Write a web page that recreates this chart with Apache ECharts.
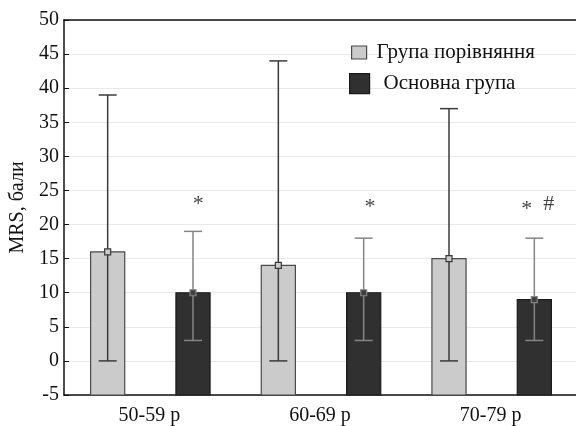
<!DOCTYPE html>
<html><head><meta charset="utf-8">
<script src="https://cdn.jsdelivr.net/npm/echarts@6/dist/echarts.min.js"></script>
<style>html,body{margin:0;padding:0;background:#fff}#c{width:576px;height:426px}</style>
</head><body><div id="c"></div>
<script>
const categories = ['50-59 р', '60-69 р', '70-79 р'];
const seriesNames = ['Група порівняння', 'Основна група'];
const compMean = [16, 14, 15];
const compLow = [0, 0, 0];
const compHigh = [39, 44, 37];
const mainMean = [10, 10, 9];
const mainLow = [3, 3, 3];
const mainHigh = [19, 18, 18];
const yTicks = [-5, 50, 5]; // min, max, step
const annotText = ['*', '*', '*', '#'];
const annotCat = [0, 1, 2, 2];
const annotY = [23, 22.6, 22.3, 23];

const FONT = 'Liberation Serif';
const annotDx = [49, 50, 36, 58];

function barSeries(name, mean, low, high, sign, fill, border, lineColor, mfill) {
  return {
    type: 'custom', name: name, z: 3,
    itemStyle: { color: fill, borderColor: border, borderWidth: 1.2 },
    data: mean.map((m, i) => [i, m, low[i], high[i]]),
    renderItem: function (params, api) {
      const i = api.value(0);
      const w = api.size([1, 0])[0];
      const off = sign * w * 0.25;
      const bw = w * 0.2;
      const pm = api.coord([i, api.value(1)]);
      const pb = api.coord([i, yTicks[0]]);
      const pl = api.coord([i, api.value(2)]);
      const ph = api.coord([i, api.value(3)]);
      const x = pm[0] + off + (sign > 0 ? 1 : 1);
      const cap = 9;
      const st = { stroke: lineColor, lineWidth: 1.5 };
      return { type: 'group', children: [
        { type: 'rect', shape: { x: x - bw / 2, y: pm[1], width: bw, height: pb[1] - pm[1] }, style: { fill: fill, stroke: border, lineWidth: 1.2 } },
        { type: 'line', shape: { x1: x, y1: pl[1], x2: x, y2: ph[1] }, style: st },
        { type: 'line', shape: { x1: x - cap, y1: pl[1], x2: x + cap, y2: pl[1] }, style: st },
        { type: 'line', shape: { x1: x - cap, y1: ph[1], x2: x + cap, y2: ph[1] }, style: st },
        { type: 'rect', shape: { x: x - 3, y: pm[1] - 3, width: 6, height: 6 }, style: { stroke: lineColor, lineWidth: 1.2, fill: mfill } }
      ]};
    }
  };
}

const chart = echarts.init(document.getElementById('c'));
chart.setOption({
  animation: false,
  backgroundColor: '#fff',
  textStyle: { fontFamily: FONT },
  grid: { left: 64, top: 20, width: 513, height: 376 },
  legend: [
    { data: [{ name: seriesNames[0], icon: 'rect', itemStyle: { color: '#cbcbcb', borderColor: '#4a4a4a', borderWidth: 1.2 } }],
      left: 346, top: 37, itemWidth: 15, itemHeight: 13,
      textStyle: { fontFamily: FONT, fontSize: 21, color: '#111', padding: [0, 0, 0, 5] } },
    { data: [{ name: seriesNames[1], icon: 'rect', itemStyle: { color: '#303030', borderColor: '#1a1a1a', borderWidth: 1.2 } }],
      left: 344, top: 68, itemWidth: 20, itemHeight: 20,
      textStyle: { fontFamily: FONT, fontSize: 21, color: '#111', padding: [0, 0, 0, 9] } }
  ],
  xAxis: [
    { type: 'category', data: categories, position: 'bottom',
      axisLine: { onZero: false, lineStyle: { color: '#111', width: 1.5 } },
      axisTick: { inside: true, length: 4, alignWithLabel: true, lineStyle: { color: '#111' } },
      axisLabel: { fontFamily: FONT, fontSize: 20, color: '#111', margin: 11 } },
    { type: 'category', data: categories, position: 'top',
      axisLine: { show: true, onZero: false, lineStyle: { color: '#111', width: 1.5 } },
      axisTick: { inside: true, length: 4, alignWithLabel: true, lineStyle: { color: '#111' } },
      axisLabel: { show: false } }
  ],
  yAxis: {
    type: 'value', min: yTicks[0], max: yTicks[1], interval: yTicks[2],
    name: 'MRS, бали', nameLocation: 'middle', nameGap: 36, nameRotate: 90,
    nameTextStyle: { fontFamily: FONT, fontSize: 20, color: '#111', padding: [0, 0, 0, 0] },
    axisLine: { show: true, onZero: false, lineStyle: { color: '#111', width: 1.5 } },
    axisTick: { show: true, inside: true, length: 5, lineStyle: { color: '#111' } },
    axisLabel: { fontFamily: FONT, fontSize: 20, color: '#111', margin: 5 },
    splitLine: { lineStyle: { color: '#e8e8e8', width: 1 } }
  },
  series: [
    barSeries(seriesNames[0], compMean, compLow, compHigh, -1, '#cbcbcb', '#4a4a4a', '#3a3a3a', '#cbcbcb'),
    barSeries(seriesNames[1], mainMean, mainLow, mainHigh, 1, '#303030', '#1a1a1a', '#858585', '#404040'),
    { type: 'scatter', symbolSize: 0, silent: true, z: 6,
      data: annotY.map((y, i) => ({ value: [annotCat[i], y], label: { offset: [annotDx[i], 0] }, name: annotText[i] })),
      label: { show: true, position: 'inside', formatter: p => p.name, fontFamily: FONT, fontSize: 22, color: '#111' } }
  ]
});
</script></body></html>
